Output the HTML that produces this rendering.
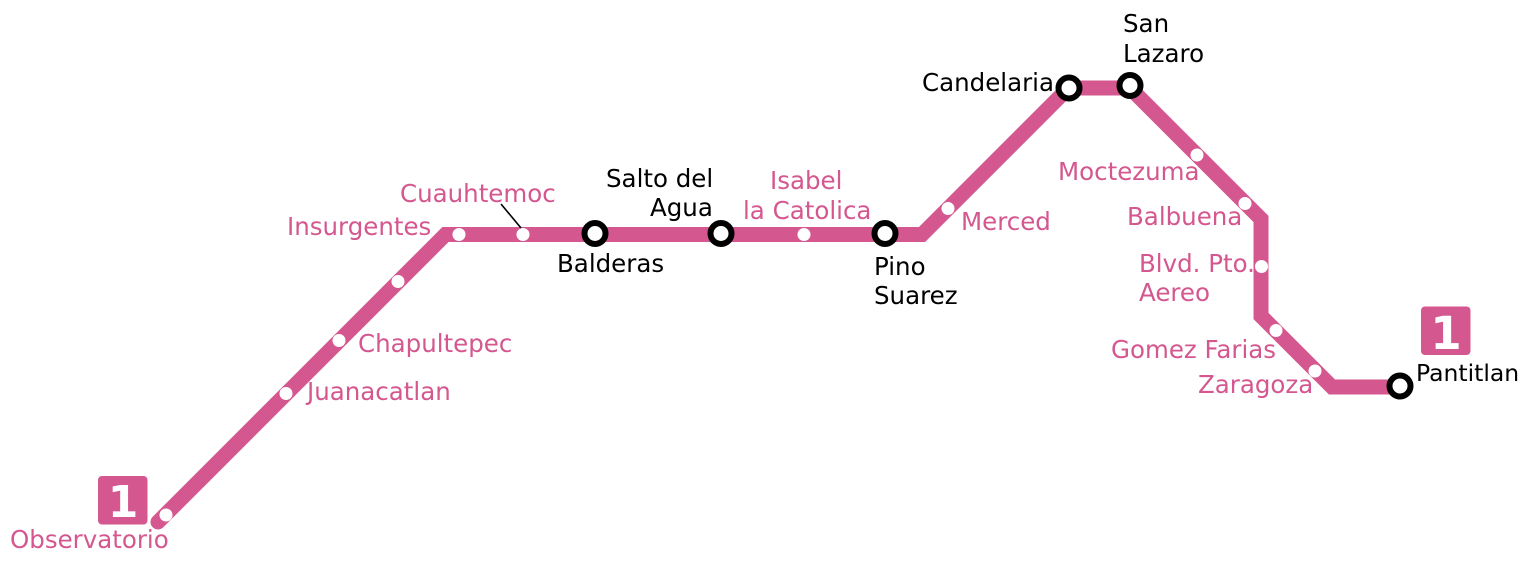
<!DOCTYPE html>
<html>
<head>
<meta charset="utf-8">
<style>
  html, body { margin:0; padding:0; background:#fff; }
  svg { display:block; }
  text { font-family: "DejaVu Sans", "Liberation Sans", sans-serif; font-size:24.5px; }
  .p { fill:#d4578f; }
  .k { fill:#000; }
</style>
</head>
<body>
<svg width="1536" height="564" viewBox="0 0 1536 564" xmlns="http://www.w3.org/2000/svg">
  <!-- main line -->
  <path d="M158,522 L445.5,234.5 L922,234.5 L1068.5,88 L1130,88 L1261,219 L1261,316 L1332,387 L1400,387"
        fill="none" stroke="#d4578f" stroke-width="15" stroke-linejoin="miter" stroke-linecap="round"/>

  <!-- small stations -->
  <g fill="#fff">
    <circle cx="166" cy="515" r="6.5"/>
    <circle cx="286" cy="393.5" r="6.5"/>
    <circle cx="339" cy="340.5" r="6.5"/>
    <circle cx="398" cy="281.5" r="6.5"/>
    <circle cx="459" cy="234.5" r="6.5"/>
    <circle cx="523" cy="234.5" r="6.5"/>
    <circle cx="804" cy="234.5" r="6.5"/>
    <circle cx="948" cy="208.5" r="6.5"/>
    <circle cx="1197" cy="155" r="6.5"/>
    <circle cx="1245" cy="203.5" r="6.5"/>
    <circle cx="1261.5" cy="266.5" r="6.5"/>
    <circle cx="1276" cy="330.5" r="6.5"/>
    <circle cx="1315" cy="371" r="6.5"/>
  </g>

  <!-- interchange stations -->
  <g fill="#fff" stroke="#000" stroke-width="6">
    <circle cx="595" cy="233.5" r="10.5"/>
    <circle cx="721" cy="233.5" r="10.5"/>
    <circle cx="885" cy="233.5" r="10.5"/>
    <circle cx="1069" cy="88" r="10.5"/>
    <circle cx="1130" cy="85.5" r="10.5"/>
    <circle cx="1400" cy="386" r="10.5"/>
  </g>

  <!-- leader line -->
  <line x1="501" y1="204" x2="521" y2="228" stroke="#000" stroke-width="1.6"/>

  <!-- badges -->
  <rect x="98" y="476" width="49.5" height="48.5" rx="4" fill="#d4578f"/>
  <text x="123" y="517" text-anchor="middle" fill="#fff" style="font-weight:bold;font-size:44px;">1</text>
  <rect x="1421" y="306.5" width="49.5" height="48.5" rx="4" fill="#d4578f"/>
  <text x="1446" y="349" text-anchor="middle" fill="#fff" style="font-weight:bold;font-size:45px;">1</text>

  <!-- pink labels -->
  <text class="p" x="10" y="548">Observatorio</text>
  <text class="p" x="307" y="400">Juanacatlan</text>
  <text class="p" x="358" y="352">Chapultepec</text>
  <text class="p" x="287" y="235">Insurgentes</text>
  <text class="p" x="400" y="202">Cuauhtemoc</text>
  <text class="p" x="770" y="189">Isabel</text>
  <text class="p" x="743" y="219">la Catolica</text>
  <text class="p" x="961" y="230">Merced</text>
  <text class="p" x="1058" y="180">Moctezuma</text>
  <text class="p" x="1127" y="225">Balbuena</text>
  <text class="p" x="1139" y="272">Blvd. Pto.</text>
  <text class="p" x="1139" y="301">Aereo</text>
  <text class="p" x="1111" y="358">Gomez Farias</text>
  <text class="p" x="1198" y="393">Zaragoza</text>

  <!-- black labels -->
  <text class="k" x="606" y="187">Salto del</text>
  <text class="k" x="650" y="216">Agua</text>
  <text class="k" x="557" y="272">Balderas</text>
  <text class="k" x="874" y="275">Pino</text>
  <text class="k" x="874" y="304">Suarez</text>
  <text class="k" x="922" y="91">Candelaria</text>
  <text class="k" x="1123" y="32">San</text>
  <text class="k" x="1123" y="62">Lazaro</text>
  <text class="k" x="1416" y="381" style="font-size:23.5px;">Pantitlan</text>
</svg>
</body>
</html>
